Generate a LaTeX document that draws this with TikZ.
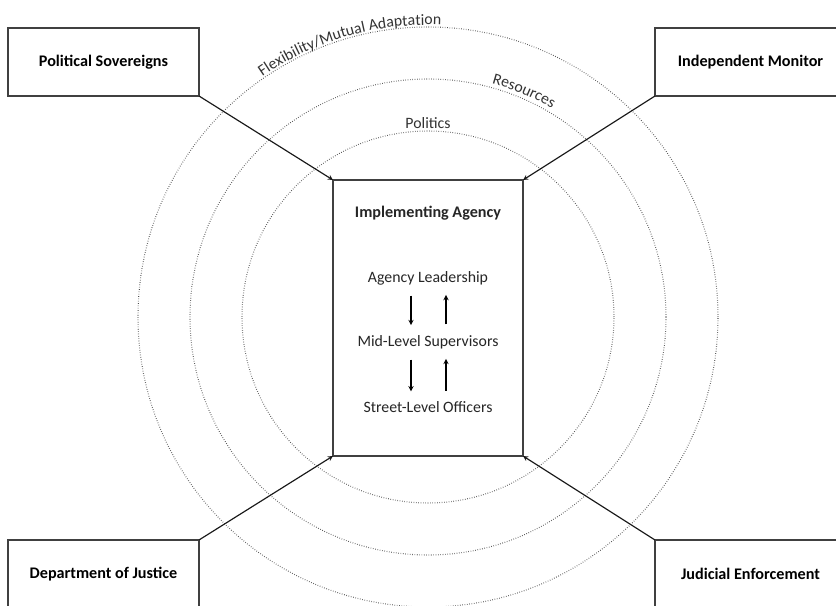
\documentclass[tikz,border=0pt]{standalone}
\usepackage{fontspec}
\setmainfont{Carlito}
\usepackage{tikz}
\usetikzlibrary{decorations.text}

\tikzset{
  party/.style={draw=black!75, line width=1.1pt, fill=white, outer sep=0pt,
    minimum width=5.73cm, minimum height=2.04cm,
    font=\bfseries\fontsize{13.8}{16}\selectfont},
  agencybox/.style={draw=black!75, line width=1.1pt, fill=white, outer sep=0pt,
    minimum width=5.7cm, minimum height=8.28cm},
  ring/.style={draw=black!70, line width=0.9pt, dash pattern=on 0.5pt off 1.5pt},
  level/.style={font=\fontsize{13.5}{16}\selectfont, text=black!85},
  push/.style={->, line width=1pt, black!90},
  flow/.style={->, line width=1pt, shorten <=0.2cm, shorten >=0.18cm}
}

\begin{document}
\begin{tikzpicture}[>=stealth]
\clip (0,0) rectangle (25.08,18.15);
\coordinate (O) at (12.84,8.64);

% rings round the agency
\foreach \r in {5.58,7.14,8.7}{
    \draw[ring] (O) circle (\r cm);
}
\node[level, text=black!80] (politics) at (12.84,14.46) {Politics};
\path[decorate, decoration={text along path, text align=center,
    text={|\fontsize{13.5}{16}\selectfont\color{black!80}|Resources}}]
    ([shift={(87:7.27)}]O) arc[start angle=87, end angle=47, radius=7.27];
\path[decorate, decoration={text along path, text align=center,
    text={|\fontsize{13.5}{16}\selectfont\color{black!80}|Flexibility/Mutual Adaptation}}]
    ([shift={(136:8.76)}]O) arc[start angle=136, end angle=76, radius=8.76];

% outside actors
\node[party] (sov) at (3.105,16.29) {Political Sovereigns};
\node[party] (mon) at (22.515,16.29) {Independent Monitor};
\node[party] (doj) at (3.105,0.93) {Department of Justice};
\node[party] (jud) at (22.515,0.93) {Judicial Enforcement};

% the agency
\node[agencybox] (agency) at (12.84,8.61) {};
\node[level, font=\bfseries\fontsize{13.8}{16}\selectfont] (title) at (12.84,11.76) {Implementing Agency};
\node[level] (lead) at (12.84,9.81) {Agency Leadership};
\node[level] (mid) at (12.84,7.89) {Mid-Level Supervisors};
\node[level] (street) at (12.84,5.94) {Street-Level Officers};

\draw[flow] ([xshift=-0.51cm]lead.south) -- ([xshift=-0.51cm]mid.north);
\draw[flow] ([xshift=0.54cm]mid.north) -- ([xshift=0.54cm]lead.south);
\draw[flow] ([xshift=-0.51cm]mid.south) -- ([xshift=-0.51cm]street.north);
\draw[flow] ([xshift=0.54cm]street.north) -- ([xshift=0.54cm]mid.south);

\draw[push] (sov.south east) -- (agency.north west);
\draw[push] (mon.south west) -- (agency.north east);
\draw[push] (doj.north east) -- (agency.south west);
\draw[push] (jud.north west) -- (agency.south east);
\end{tikzpicture}
\end{document}
